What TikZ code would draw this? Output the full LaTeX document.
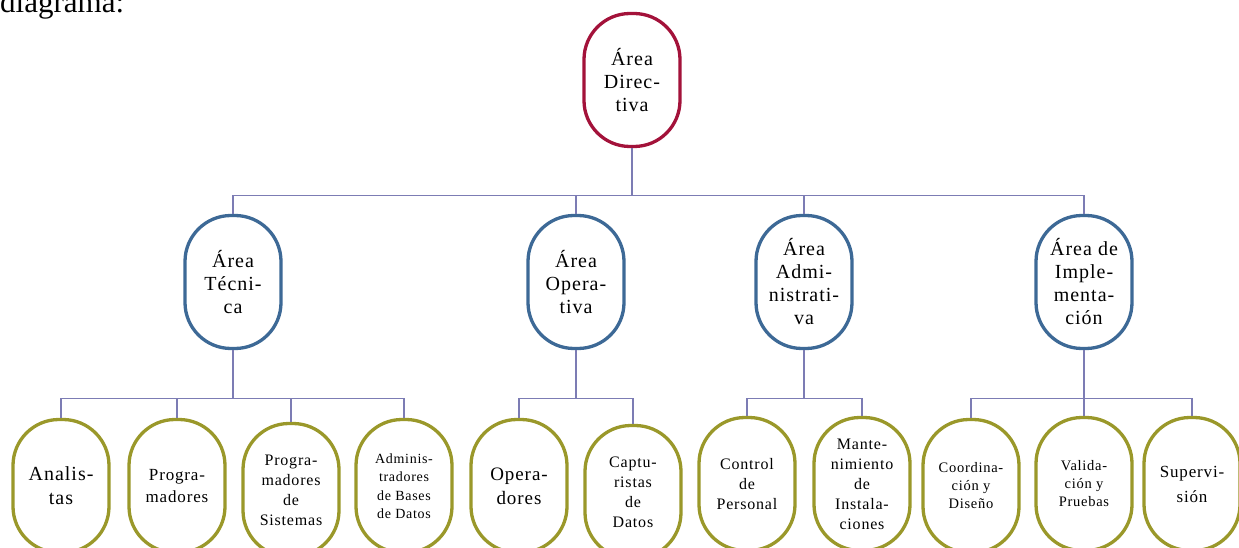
\documentclass[tikz,border=0pt]{standalone}
\usepackage{fontspec}
\setmainfont{Liberation Serif}
\newfontfamily\boxfont[LetterSpace=5]{Liberation Serif}
\usepackage{tikz}
\definecolor{dirred}{RGB}{163,18,58}
\definecolor{areablue}{RGB}{61,105,150}
\definecolor{jobolive}{RGB}{154,152,42}
\definecolor{linkblue}{RGB}{124,124,180}

\begin{document}
\begin{tikzpicture}[x=1pt,y=-1pt,
        box/.style={draw,line width=3.3pt,fill=white,rounded corners=46pt,
            minimum width=96pt,minimum height=133pt,inner sep=0pt,align=center,
            font=\boxfont\fontsize{20}{23}\selectfont},
        dirbox/.style={box,draw=dirred},
        areabox/.style={box,draw=areablue},
        jobbox/.style={box,draw=jobolive},
        link/.style={draw=linkblue,line width=1.2pt}]
        \useasboundingbox (0,0) rectangle (1239,548);
        \node[anchor=base west,inner sep=0pt,font=\fontsize{31}{33}\selectfont] (intro) at (0,13) {diagrama:};
        % top
        \node[dirbox] (dir) at (632,80) {Área\\Direc-\\tiva};
        % areas
        \node[areabox] (tec) at (233,282) {Área\\Técni-\\ca};
        \node[areabox] (ope) at (576,282) {Área\\Opera-\\tiva};
        \node[areabox] (adm) at (804,282) {Área\\Admi-\\nistrati-\\va};
        \node[areabox] (imp) at (1084,282) {Área de\\Imple-\\menta-\\ción};
        % jobs
        \node[jobbox,font=\boxfont\fontsize{20}{24}\selectfont] (ana) at (61,486) {Analis-\\tas};
        \node[jobbox,font=\boxfont\fontsize{17}{22}\selectfont] (pro) at (177,486) {Progra-\\madores};
        \node[jobbox,font=\boxfont\fontsize{16}{20}\selectfont] (sis) at (291,490) {Progra-\\madores\\de\\Sistemas};
        \node[jobbox,font=\boxfont\fontsize{14}{18.5}\selectfont] (bd) at (404,486) {Adminis-\\tradores\\de Bases\\de Datos};
        \node[jobbox,font=\boxfont\fontsize{19}{24}\selectfont] (opr) at (519,486) {Opera-\\dores};
        \node[jobbox,font=\boxfont\fontsize{16}{20}\selectfont] (cap) at (633,492) {Captu-\\ristas\\de\\Datos};
        \node[jobbox,font=\boxfont\fontsize{16}{20}\selectfont] (ctl) at (747,484) {Control\\de\\Personal};
        \node[jobbox,font=\boxfont\fontsize{16}{20}\selectfont] (man) at (862,484) {Mante-\\nimiento\\de\\Instala-\\ciones};
        \node[jobbox,font=\boxfont\fontsize{14.5}{18}\selectfont] (coo) at (971,486) {Coordina-\\ción y\\Diseño};
        \node[jobbox,font=\boxfont\fontsize{14.5}{18}\selectfont] (val) at (1084,484) {Valida-\\ción y\\Pruebas};
        \node[jobbox,font=\boxfont\fontsize{17}{25}\selectfont] (sup) at (1192,484) {Supervi-\\sión};
        % links
        \foreach \c in {tec,ope,adm,imp}
            \draw[link] (dir.south) -- ++(0,47) -| (\c.north);
        \foreach \c in {ana,pro,sis,bd}
            \draw[link] (tec.south) -- ++(0,48) -| (\c.north);
        \foreach \c in {opr,cap}
            \draw[link] (ope.south) -- ++(0,48) -| (\c.north);
        \foreach \c in {ctl,man}
            \draw[link] (adm.south) -- ++(0,48) -| (\c.north);
        \foreach \c in {coo,val,sup}
            \draw[link] (imp.south) -- ++(0,48) -| (\c.north);
\end{tikzpicture}
\end{document}
